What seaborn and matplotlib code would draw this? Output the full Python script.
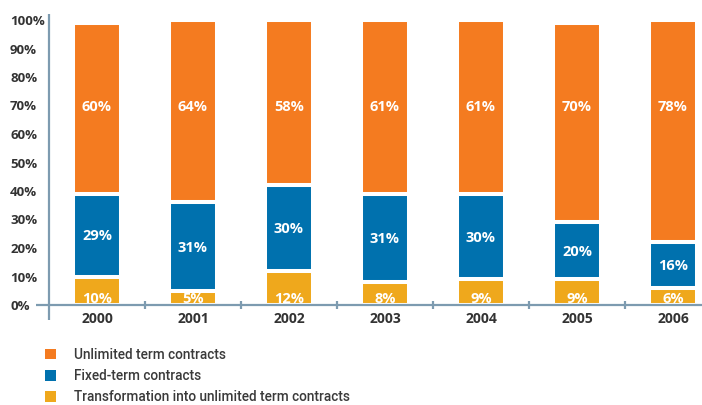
import numpy as np
import pandas as pd
import matplotlib
matplotlib.use("Agg")
import matplotlib.pyplot as plt
from matplotlib.patches import Patch
import seaborn as sns

# Share of contract types per year (%)
years = ["2000", "2001", "2002", "2003", "2004", "2005", "2006"]
transformation = [10, 5, 12, 8, 9, 9, 6]
fixed_term = [29, 31, 30, 31, 30, 20, 16]
unlimited = [60, 64, 58, 61, 61, 70, 78]

series_names = [
    "Unlimited term contracts",
    "Fixed-term contracts",
    "Transformation into unlimited term contracts",
]
y_ticks = [0, 10, 20, 30, 40, 50, 60, 70, 80, 90, 100]
y_tick_labels = [f"{v}%" for v in y_ticks]

sns.set_theme(style="white")
plt.rcParams["font.family"] = ["Open Sans", "DejaVu Sans"]

ORANGE = "#F47B20"
BLUE = "#0071AE"
YELLOW = "#EFA81C"
AXIS = "#7D9BB0"
TEXT = "#333333"

df = pd.DataFrame({
    "year": years,
    "transformation": transformation,
    "fixed": fixed_term,
    "unlimited": unlimited,
})
df["top_yellow"] = df["transformation"]
df["top_blue"] = df["top_yellow"] + df["fixed"]
df["top_orange"] = df["top_blue"] + df["unlimited"]

W, H = 702, 405
fig = plt.figure(figsize=(W / 100, H / 100), dpi=100)
ax = fig.add_axes([49 / W, 100 / H, 672 / W, 285 / H])

# Stacked bars: draw cumulative heights from tallest to shortest,
# white edges separate the segments.
for col, color in [("top_orange", ORANGE), ("top_blue", BLUE), ("top_yellow", YELLOW)]:
    sns.barplot(data=df, x="year", y=col, color=color, saturation=1,
                width=0.51, edgecolor="white", linewidth=2.9,
                errorbar=None, ax=ax, zorder=2)

ax.set_xlim(-0.5, 6.5)
ax.set_ylim(0, 100)
ax.set_xlabel("")
ax.set_ylabel("")
for s in ax.spines.values():
    s.set_visible(False)

# Axis lines that cross each other at the origin
ax.plot([0, 0], [-15 / 285, 291 / 285], transform=ax.transAxes,
        color=AXIS, lw=1.6, clip_on=False, zorder=6, solid_capstyle="butt")
ax.plot([-13 / 672, 1], [0, 0], transform=ax.transAxes,
        color=AXIS, lw=1.6, clip_on=False, zorder=6, solid_capstyle="butt")

# Y ticks
ax.set_yticks(y_ticks)
ax.set_yticklabels(y_tick_labels)
ax.tick_params(axis="y", length=0, pad=28, labelsize=9.5, labelcolor=TEXT)
for lab in ax.get_yticklabels():
    lab.set_ha("left")
    lab.set_fontweight("bold")

# X ticks: labels at bars, small marks between categories
ax.set_xticks(range(len(years)))
ax.set_xticklabels(years)
ax.tick_params(axis="x", which="major", length=0, pad=5, labelsize=10,
               labelcolor=TEXT)
for lab in ax.get_xticklabels():
    lab.set_fontweight("bold")
ax.set_xticks(np.arange(0.5, len(years) - 1, 1), minor=True)
ax.tick_params(axis="x", which="minor", bottom=True, direction="inout",
               length=6, width=1.6, color=AXIS)

# Value labels
lab_kw = dict(color="white", fontsize=10.5, fontweight="bold",
              ha="center", va="baseline", textcoords="offset points",
              xytext=(0, -3.7), zorder=7)
for i, (t, f, u) in enumerate(zip(transformation, fixed_term, unlimited)):
    ax.annotate(f"{u}%", (i, 70), **lab_kw)
    ax.annotate(f"{f}%", (i, t + f / 2), **lab_kw)
    ax.annotate(f"{t}%", (i, 2.5), **lab_kw)

# Legend
handles = [Patch(facecolor=c, edgecolor="none") for c in (ORANGE, BLUE, YELLOW)]
leg = fig.legend(handles, series_names, loc="upper left",
                 bbox_to_anchor=(45 / W, 1 - 348 / H), frameon=False,
                 borderpad=0, borderaxespad=0, handlelength=0.8,
                 handleheight=0.8, handletextpad=1.3, labelspacing=0.52,
                 prop=dict(family=["Roboto", "DejaVu Sans"], weight="medium",
                           size=9.8))
for txt in leg.get_texts():
    txt.set_color("#3A3A3A")

fig.savefig("out.png", dpi=100)
